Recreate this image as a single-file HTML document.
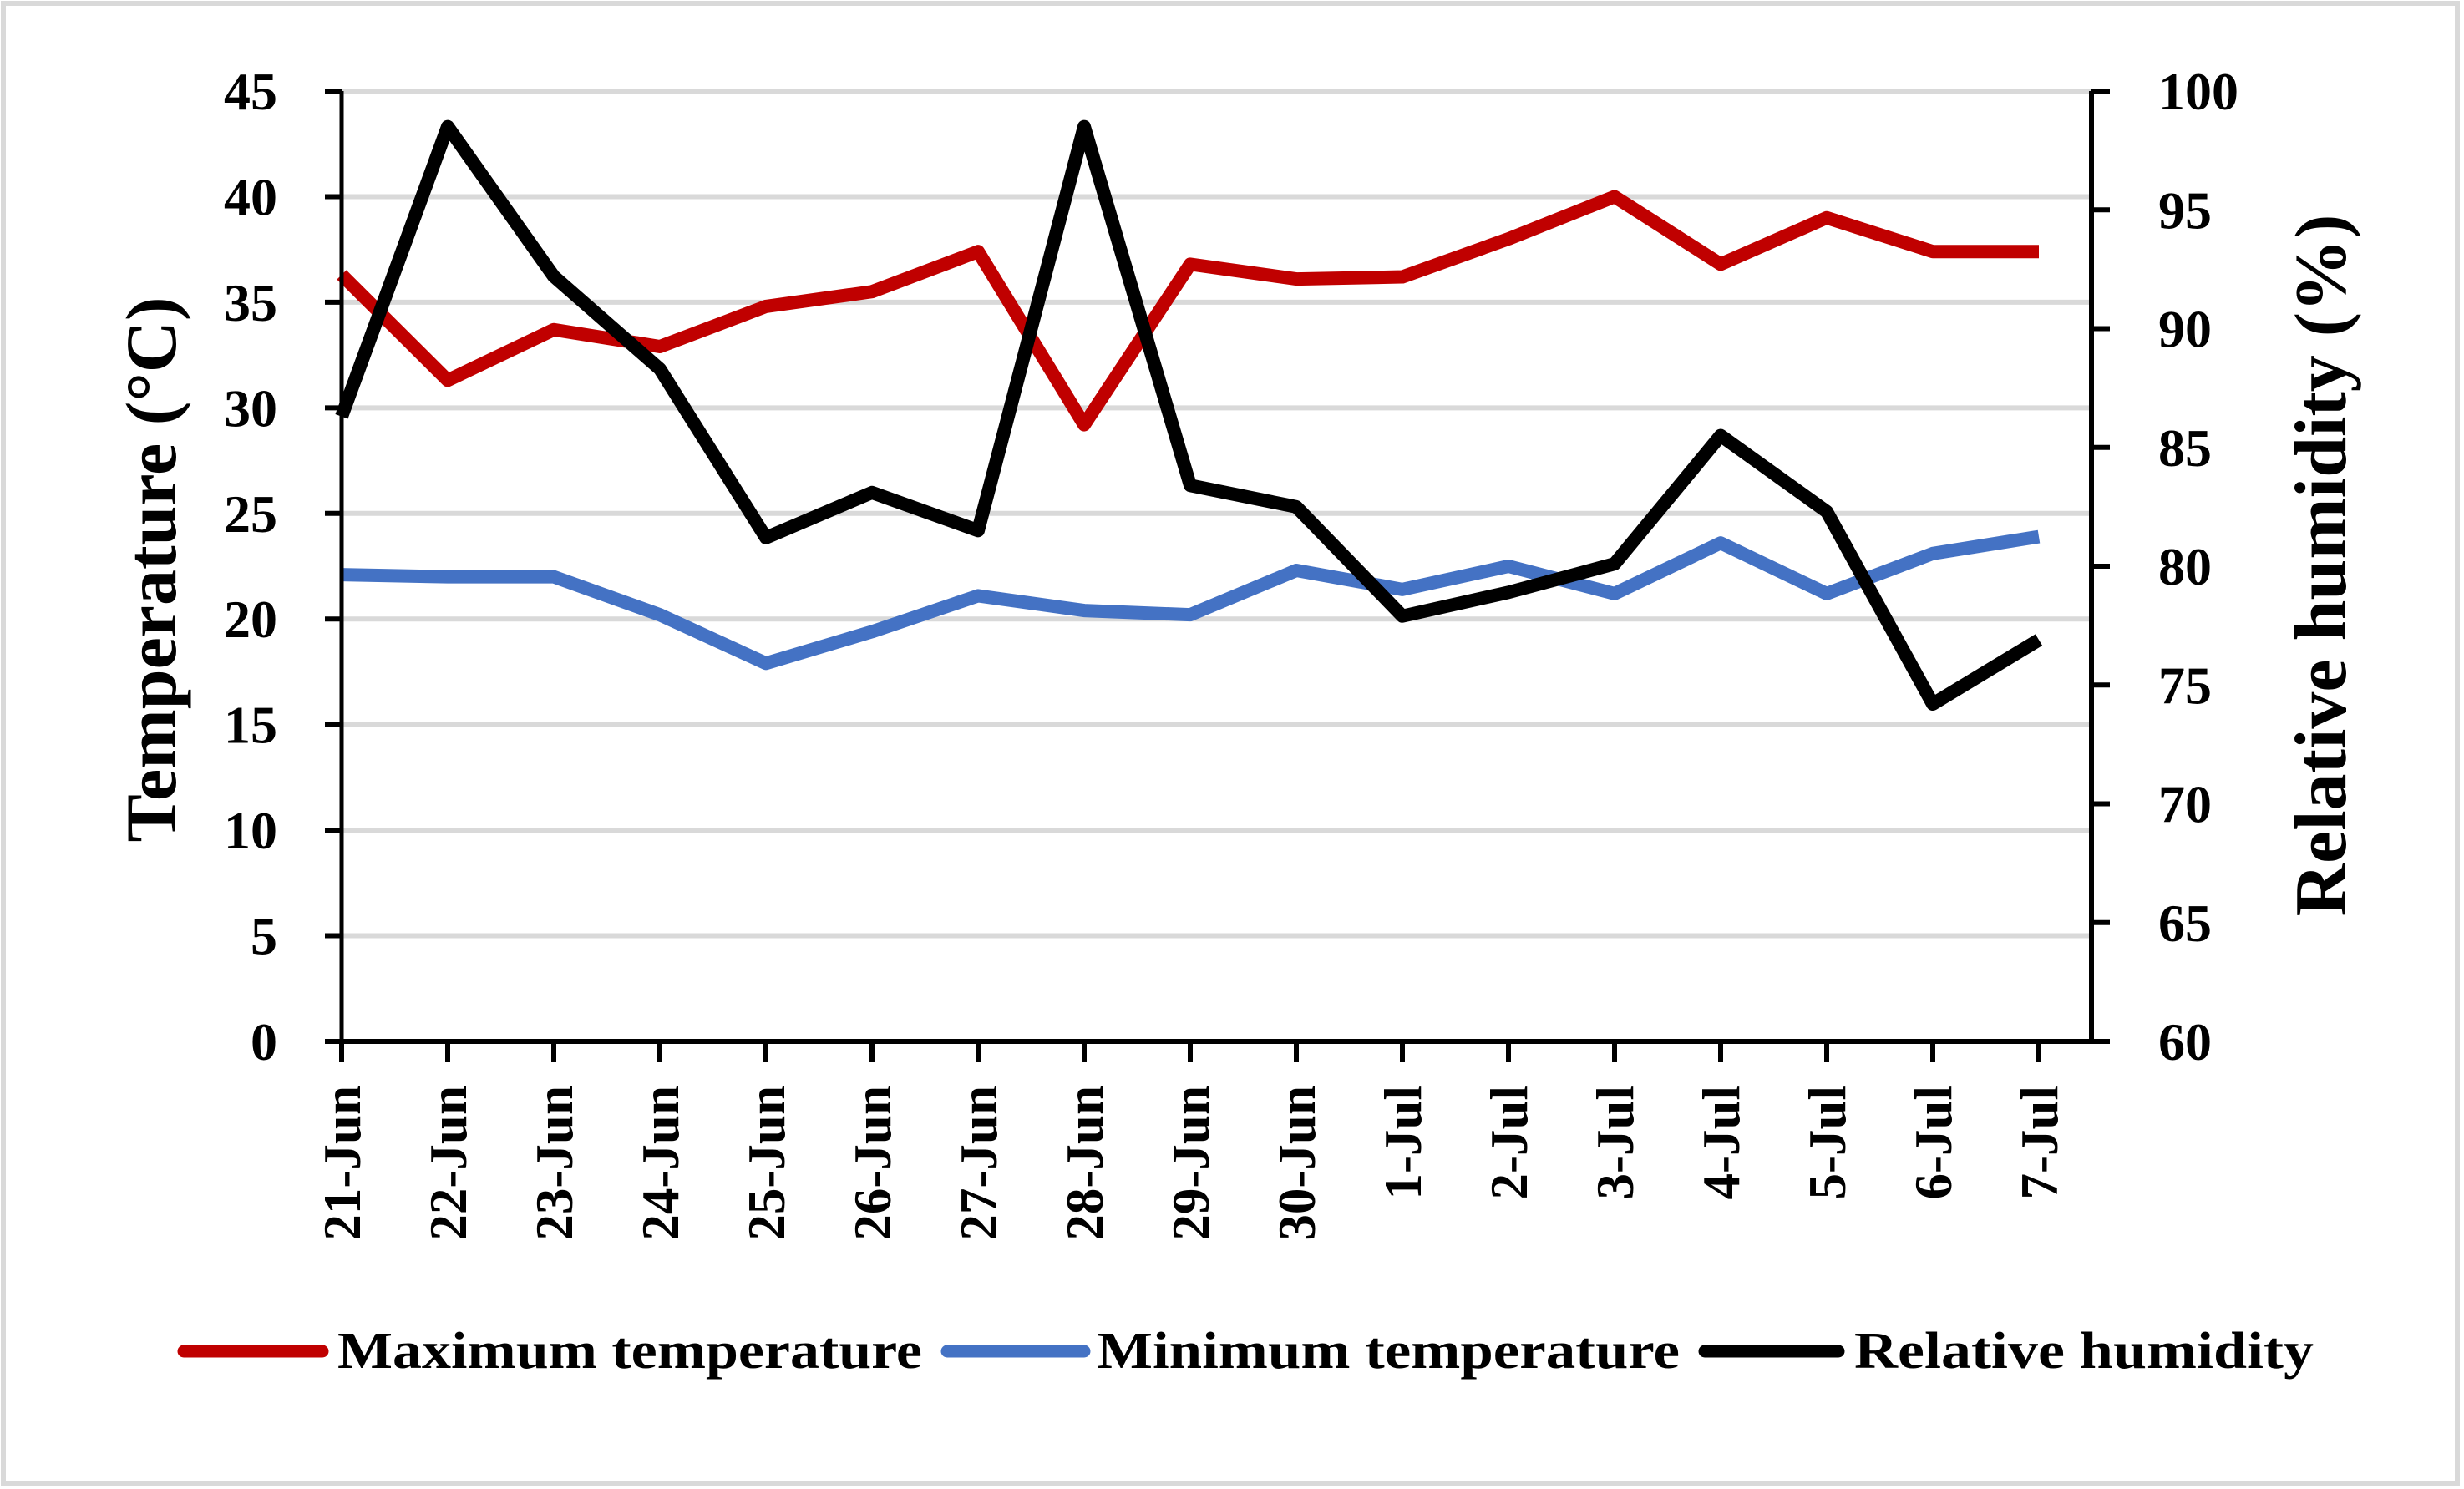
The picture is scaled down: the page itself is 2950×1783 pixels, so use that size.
<!DOCTYPE html>
<html><head><meta charset="utf-8"><style>
html,body{margin:0;padding:0;background:#fff}
svg{display:block}
text{font-family:"Liberation Serif",serif;font-weight:bold;fill:#000}
</style></head><body>
<svg id="chart" width="2950" height="1783" viewBox="0 0 2950 1783" xmlns="http://www.w3.org/2000/svg">
<rect x="4" y="4" width="2938" height="1772" fill="#fff" stroke="#d9d9d9" stroke-width="6"/>
<g id="grid"></g><g id="series"></g><g id="axes"></g>
<text x="0" y="0" font-size="86" text-anchor="middle" transform="translate(210,682) rotate(-90)">Temperature (°C)</text>
<text x="0" y="0" font-size="88" text-anchor="middle" transform="translate(2808,677) rotate(-90)">Relative humidity (%)</text>
<g>
<line x1="220" y1="1618" x2="386" y2="1618" stroke="#c00000" stroke-width="15" stroke-linecap="round"/>
<text x="404" y="1638" font-size="62" textLength="700" lengthAdjust="spacingAndGlyphs">Maximum temperature</text>
<line x1="1134" y1="1618" x2="1298" y2="1618" stroke="#4472c4" stroke-width="15" stroke-linecap="round"/>
<text x="1313" y="1638" font-size="62" textLength="698" lengthAdjust="spacingAndGlyphs">Minimum temperature</text>
<line x1="2041" y1="1618" x2="2201" y2="1618" stroke="#000" stroke-width="15" stroke-linecap="round"/>
<text x="2220" y="1638" font-size="62" textLength="550" lengthAdjust="spacingAndGlyphs">Relative humidity</text>
</g>
</svg>
<script>
const categories=["21-Jun","22-Jun","23-Jun","24-Jun","25-Jun","26-Jun","27-Jun","28-Jun","29-Jun","30-Jun","1-Jul","2-Jul","3-Jul","4-Jul","5-Jul","6-Jul","7-Jul"];
const maxTemp=[36.3,31.3,33.7,32.9,34.8,35.5,37.4,29.2,36.8,36.1,36.2,38.0,40.0,36.8,39.0,37.4,37.4];
const minTemp=[22.1,22.0,22.0,20.2,17.9,19.4,21.1,20.4,20.2,22.3,21.4,22.5,21.2,23.6,21.2,23.1,23.9];
const humidity=[86.3,98.5,92.2,88.3,81.2,83.1,81.5,98.5,83.4,82.5,77.9,78.9,80.1,85.5,82.3,74.2,76.9];
const leftTicks=[0,5,10,15,20,25,30,35,40,45];
const rightTicks=[60,65,70,75,80,85,90,95,100];

const NS="http://www.w3.org/2000/svg";
const L=409,R=2504,T=109,B=1247,STEP=127;
const x=i=>L+STEP*i;
const yL=v=>B-(v-0)/(45-0)*(B-T);
const yR=v=>B-(v-60)/(100-60)*(B-T);
function mk(tag,attrs,parent){const e=document.createElementNS(NS,tag);for(const k in attrs)e.setAttribute(k,attrs[k]);parent.appendChild(e);return e;}
const grid=document.getElementById('grid'),axes=document.getElementById('axes'),series=document.getElementById('series');
leftTicks.forEach(v=>{
  if(v>0){const g=mk('line',{x1:L,x2:R,y1:yL(v),y2:yL(v),stroke:'#d9d9d9','stroke-width':6},grid);
  
  }
  const t=mk('line',{x1:L-20,x2:L,y1:yL(v),y2:yL(v),stroke:'#000','stroke-width':6},axes);
  
  
  const tx=mk('text',{x:332,y:yL(v)+22,'font-size':64,'font-weight':'normal','text-anchor':'end'},axes);tx.textContent=v;
  
  
});
rightTicks.forEach(v=>{
  const t=mk('line',{x1:R,x2:R+22,y1:yR(v),y2:yR(v),stroke:'#000','stroke-width':6},axes);
  
  
  const tx=mk('text',{x:2584,y:yR(v)+22,'font-size':64,'font-weight':'normal','text-anchor':'start'},axes);tx.textContent=v;
  
  
});
const la=mk('line',{x1:L,x2:L,y1:T,y2:B,stroke:'#000','stroke-width':5},axes);


const ra=mk('line',{x1:R,x2:R,y1:T,y2:B,stroke:'#000','stroke-width':6},axes);


const xa=mk('line',{x1:L,x2:R+22,y1:B,y2:B,stroke:'#000','stroke-width':6},axes);


categories.forEach((c,i)=>{
  const t=mk('line',{x1:x(i),x2:x(i),y1:B,y2:B+25,stroke:'#000','stroke-width':6},axes);
  
  
  const tx=mk('text',{x:0,y:0,'font-size':63,'text-anchor':'end',transform:`translate(${x(i)+22},1300) rotate(-90)`},axes);tx.textContent=c;
  
  
});
function line(vals,yf,color,name){
  const p=mk('polyline',{points:vals.map((v,i)=>x(i)+','+yf(v)).join(' '),fill:'none',stroke:color,'stroke-width':16,'stroke-linejoin':'round','stroke-linecap':'butt'},series);
  
  
}
line(minTemp,yL,'#4472c4','min-temperature-line');
line(maxTemp,yL,'#c00000','max-temperature-line');
line(humidity,yR,'#000','relative-humidity-line');
</script>
</body></html>
